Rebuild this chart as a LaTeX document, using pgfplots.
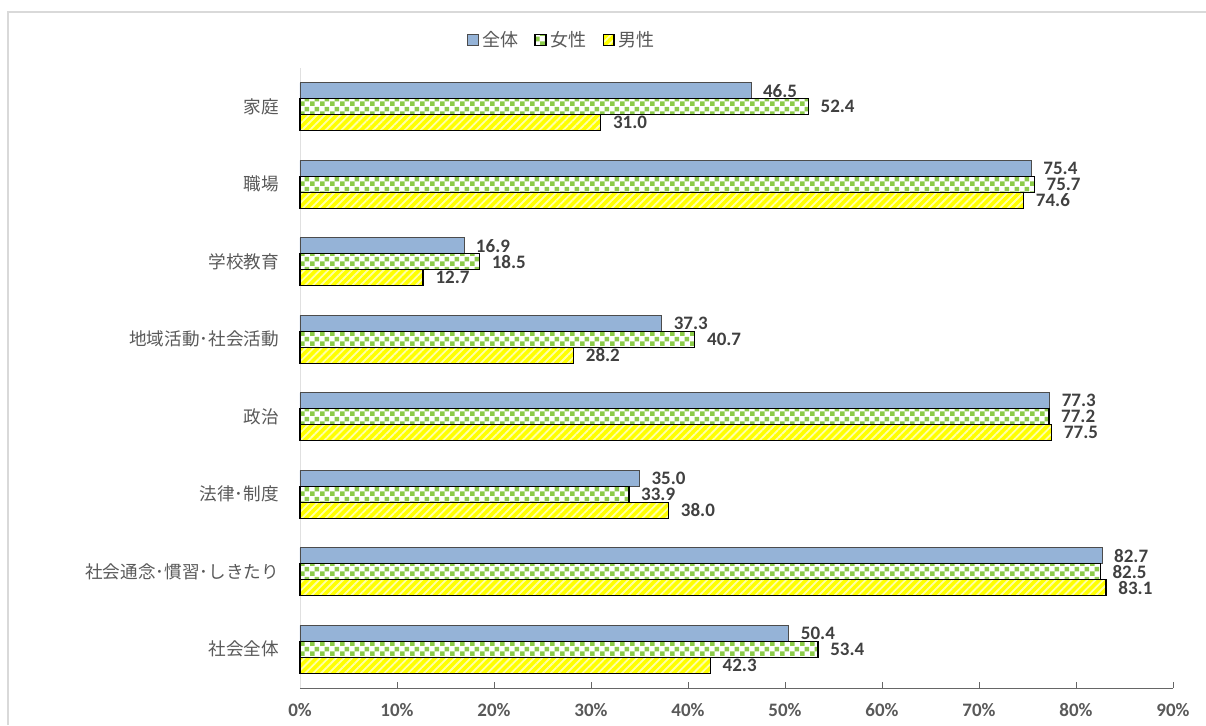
\documentclass[border=0pt]{standalone}
\usepackage{pgfplots}
\pgfplotsset{compat=1.18}
\usetikzlibrary{patterns,patterns.meta}
\usepackage{fontspec}
\setmainfont{Carlito}
\newfontfamily\cjk{Noto Sans CJK JP}
\definecolor{cblue}{HTML}{95B3D7}
\definecolor{cgreen}{HTML}{8CCB4A}
\definecolor{cyellow}{HTML}{FFFF00}
\definecolor{cstripe}{HTML}{FFFFA8}
\definecolor{ctext}{HTML}{404040}
\definecolor{clabel}{HTML}{595959}
\tikzdeclarepattern{
  name=mychecker,
  type=uncolored,
  bottom left={(0pt,0pt)},
  top right={(5pt,5pt)},
  tile size={(5pt,5pt)},
  code={
    \fill (0pt,0pt) rectangle (2.5pt,2.5pt);
    \fill (2.5pt,2.5pt) rectangle (5pt,5pt);
  }
}
\begin{document}
\begin{tikzpicture}
\begin{axis}[
  scale only axis,
  width=436.5pt, height=310pt,
  xbar=0pt, bar width=8pt,
  xmin=0, xmax=90,
  ymin=-0.5, ymax=7.5,
  xtick={0,10,...,90},
  xticklabel={\pgfmathprintnumber{\tick}\%},
  /pgf/number format/assume math mode=true,
  ytick={0,...,7},
  yticklabels={社会全体,社会通念･慣習･しきたり,法律･制度,政治,地域活動･社会活動,学校教育,職場,家庭},
  yticklabel style={font=\cjk\fontsize{8.8}{10}\selectfont, text=clabel, xshift=-4pt},
  xticklabel style={font=\bfseries\fontsize{9.5}{11}\selectfont, text=clabel, yshift=-4pt},
  axis x line*=bottom,
  axis y line*=left,
  x axis line style={draw=gray!80!black, -},
  y axis line style={draw=black!12, -},
  xtick align=inside,
  xtick style={draw=gray!80!black},
  major tick length=3pt,
  ytick style={draw=none},
  point meta=x,
  nodes near coords={\pgfmathprintnumber[fixed,fixed zerofill,precision=1]{\pgfplotspointmeta}},
  nodes near coords style={font=\bfseries\fontsize{9.5}{11}\selectfont, text=ctext, anchor=west, xshift=2.5pt, inner ysep=0pt},
  legend columns=3,
  legend style={at={(axis description cs:0.301,1.045)}, anchor=center, draw=none,
    font=\cjk\fontsize{9}{11}\selectfont, text=clabel,
    /tikz/every even column/.append style={column sep=6pt}},
  legend image code/.code={\draw[#1] (0pt,-2.7pt) rectangle (5.4pt,2.7pt);},
  clip=false,
]
\addplot[bar shift=8pt, fill=cblue, draw=black!70, line width=0.4pt] coordinates {
(50.4,0) (82.7,1) (35.0,2) (77.3,3) (37.3,4) (16.9,5) (75.4,6) (46.5,7)};
\addplot[bar shift=0pt, fill=white, draw=black, line width=0.7pt,
  postaction={pattern=mychecker, pattern color=cgreen}] coordinates {
(53.4,0) (82.5,1) (33.9,2) (77.2,3) (40.7,4) (18.5,5) (75.7,6) (52.4,7)};
\addplot[bar shift=-8pt, fill=cyellow, draw=black, line width=0.7pt,
  postaction={pattern={Lines[angle=45,distance=2.8pt,line width=0.9pt]}, pattern color=cstripe}] coordinates {
(42.3,0) (83.1,1) (38.0,2) (77.5,3) (28.2,4) (12.7,5) (74.6,6) (31.0,7)};
\legend{全体,女性,男性}
\end{axis}
\draw[black!15, line width=0.7pt] (-146pt,-18.5pt) -- (-146pt,338pt) -- (453pt,338pt);
\pgfresetboundingbox
\useasboundingbox (-150pt,-18.5pt) rectangle (453pt,344pt);
\end{tikzpicture}
\end{document}
